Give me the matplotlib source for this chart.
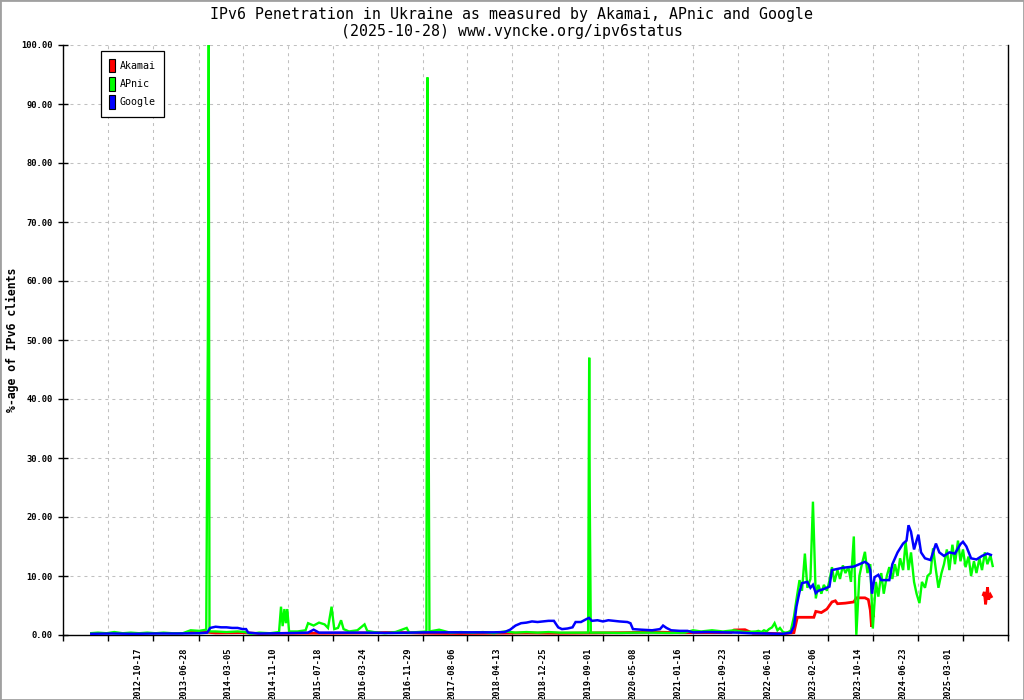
import matplotlib
matplotlib.use('Agg')
import matplotlib.pyplot as plt
from matplotlib.patches import Patch, Rectangle
import numpy as np
import pandas as pd

title = ('IPv6 Penetration in Ukraine as measured by Akamai, APnic and Google\n'
         '(2025-10-28) www.vyncke.org/ipv6status')
ylabel = '%-age of IPv6 clients'

tick_labels = ['2012-10-17', '2013-06-28', '2014-03-05', '2014-11-10', '2015-07-18',
               '2016-03-24', '2016-11-29', '2017-08-06', '2018-04-13', '2018-12-25',
               '2019-09-01', '2020-05-08', '2021-01-16', '2021-09-23', '2022-06-01',
               '2023-02-06', '2023-10-14', '2024-06-23', '2025-03-01']

# Akamai (red), nan = no data
akamai = [
    ('2013-05-01', 0.45), ('2013-08-01', 0.5), ('2013-10-01', 0.35), ('2014-03-01', 0.4),
    ('2014-06-01', 0.25), ('2015-01-01', 0.3), ('2015-06-01', 0.3), ('2016-01-01', 0.35),
    ('2016-07-01', 0.45), ('2017-01-01', 0.3), ('2017-07-01', 0.25), ('2018-01-01', 0.3),
    ('2018-07-01', 0.35), ('2019-01-01', 0.3), ('2019-07-01', 0.35), ('2020-01-01', 0.4),
    ('2020-06-01', 0.5), ('2020-11-01', 0.4), ('2021-05-01', 0.4), ('2021-08-15', 0.4),
    ('2021-09-01', 0.85), ('2021-11-01', 0.9), ('2021-12-15', 0.3), ('2022-03-01', 0.3),
    ('2022-06-01', 0.2), ('2022-08-01', 0.4), ('2022-08-20', 3.0), ('2022-10-01', 3.0),
    ('2022-11-20', 3.0), ('2022-12-01', 4.0), ('2023-01-01', 3.8), ('2023-02-01', 4.4),
    ('2023-03-01', 5.6), ('2023-03-20', 5.8), ('2023-04-01', 5.3), ('2023-05-15', 5.4),
    ('2023-07-01', 5.6), ('2023-07-15', 6.3), ('2023-09-01', 6.3), ('2023-09-20', 6.0),
    ('2023-10-01', 4.2), ('2023-10-08', 1.4), ('2023-10-15', 4.8), ('2023-10-20', 3.0),
    ('2024-06-01', np.nan),
    ('2025-06-20', 6.6), ('2025-06-28', 7.3), ('2025-07-05', 5.2), ('2025-07-16', 8.1),
    ('2025-07-22', 6.0), ('2025-08-01', 6.8), ('2025-08-10', 6.3),
]

# APNIC (green)
apnic = [
    ('2011-11-01', 0.3), ('2011-12-15', 0.4), ('2012-02-01', 0.3), ('2012-03-15', 0.5),
    ('2012-05-01', 0.3), ('2012-06-15', 0.4), ('2012-08-01', 0.3), ('2012-09-15', 0.4),
    ('2012-11-01', 0.3), ('2012-12-15', 0.4), ('2013-02-01', 0.3), ('2013-04-01', 0.3),
    ('2013-05-15', 0.8), ('2013-07-01', 0.7), ('2013-08-10', 0.9), ('2013-08-19', 50.0),
    ('2013-08-24', 100.0), ('2013-08-28', 0.6), ('2013-10-01', 0.6), ('2013-12-01', 0.5),
    ('2014-02-01', 0.6), ('2014-03-15', 0.5), ('2014-04-15', 0.2), ('2014-06-01', 0.4),
    ('2014-08-01', 0.3), ('2014-09-20', 0.5), ('2014-10-01', 4.8), ('2014-10-10', 1.5),
    ('2014-10-20', 4.4), ('2014-10-28', 2.0), ('2014-11-05', 4.4), ('2014-11-15', 0.6),
    ('2015-01-01', 0.6), ('2015-02-15', 0.8), ('2015-03-01', 2.0), ('2015-04-01', 1.6),
    ('2015-05-01', 2.1), ('2015-06-01', 1.8), ('2015-06-20', 1.2), ('2015-07-10', 4.8),
    ('2015-07-25', 1.0), ('2015-08-15', 1.2), ('2015-09-01', 2.5), ('2015-09-15', 1.0),
    ('2015-10-15', 0.6), ('2015-12-01', 0.8), ('2016-01-10', 1.8), ('2016-01-25', 0.7),
    ('2016-03-01', 0.5), ('2016-05-01', 0.3), ('2016-07-01', 0.5), ('2016-09-01', 1.2),
    ('2016-09-15', 0.4), ('2016-11-01', 0.5), ('2016-12-20', 0.6), ('2016-12-26', 94.5),
    ('2016-12-31', 47.0), ('2017-01-06', 0.6), ('2017-03-01', 0.9), ('2017-05-01', 0.4),
    ('2017-07-01', 0.5), ('2017-09-01', 0.4), ('2017-11-01', 0.5), ('2018-01-01', 0.3),
    ('2018-03-01', 0.6), ('2018-05-01', 0.4), ('2018-07-01', 0.5), ('2018-09-01', 0.4),
    ('2018-11-01', 0.5), ('2019-01-01', 0.4), ('2019-03-01', 0.4), ('2019-06-10', 0.4),
    ('2019-06-16', 47.0), ('2019-06-19', 23.5), ('2019-06-25', 0.4), ('2019-09-01', 0.4),
    ('2019-12-01', 0.35), ('2020-03-01', 0.4), ('2020-06-01', 0.4), ('2020-09-01', 0.35),
    ('2020-12-01', 0.4), ('2021-01-15', 0.8), ('2021-03-01', 0.6), ('2021-05-01', 0.8),
    ('2021-07-01', 0.6), ('2021-09-01', 0.8), ('2021-11-01', 0.5),
    ('2022-01-01', 0.6), ('2022-01-15', 0.7), ('2022-02-01', 0.5), ('2022-02-15', 0.8),
    ('2022-03-01', 0.6), ('2022-03-15', 1.0), ('2022-04-01', 1.3), ('2022-04-15', 2.0),
    ('2022-05-01', 0.8), ('2022-05-15', 1.2), ('2022-06-01', 0.5), ('2022-06-15', 0.4),
    ('2022-07-01', 0.5), ('2022-07-15', 0.8), ('2022-08-01', 3.1), ('2022-08-15', 6.0),
    ('2022-09-01', 9.3), ('2022-09-15', 7.5), ('2022-10-01', 13.8), ('2022-10-15', 8.0),
    ('2022-11-01', 9.5), ('2022-11-15', 22.6), ('2022-12-01', 6.2), ('2022-12-15', 8.5),
    ('2023-01-01', 7.0), ('2023-01-15', 8.5), ('2023-02-01', 7.5), ('2023-02-15', 9.2),
    ('2023-03-01', 11.5), ('2023-03-15', 9.0), ('2023-04-01', 11.0), ('2023-04-15', 9.5),
    ('2023-05-01', 11.8), ('2023-05-15', 10.5), ('2023-06-01', 11.5), ('2023-06-15', 9.0),
    ('2023-07-01', 16.7), ('2023-07-15', 0.0), ('2023-08-01', 10.0), ('2023-08-15', 12.0),
    ('2023-09-01', 14.1), ('2023-09-15', 10.5), ('2023-10-01', 12.0), ('2023-10-15', 1.1),
    ('2023-11-01', 9.0), ('2023-11-15', 6.5), ('2023-12-01', 10.5), ('2023-12-15', 7.0),
    ('2024-01-01', 10.0), ('2024-01-15', 11.5), ('2024-02-01', 9.5), ('2024-02-15', 12.0),
    ('2024-03-01', 10.0), ('2024-03-15', 13.0), ('2024-04-01', 11.0), ('2024-04-15', 15.8),
    ('2024-05-01', 11.0), ('2024-05-15', 14.0), ('2024-06-01', 9.0), ('2024-06-15', 7.0),
    ('2024-07-01', 5.4), ('2024-07-15', 9.0), ('2024-08-01', 8.0), ('2024-08-15', 10.0),
    ('2024-09-01', 10.5), ('2024-09-15', 14.7), ('2024-10-01', 11.0), ('2024-10-15', 8.0),
    ('2024-11-01', 10.5), ('2024-11-15', 12.0), ('2024-12-01', 14.5), ('2024-12-15', 11.0),
    ('2025-01-01', 15.3), ('2025-01-15', 12.0), ('2025-02-01', 16.0), ('2025-02-15', 12.5),
    ('2025-03-01', 14.5), ('2025-03-15', 11.5), ('2025-04-01', 13.3), ('2025-04-15', 10.0),
    ('2025-05-01', 12.5), ('2025-05-15', 10.5), ('2025-06-01', 13.0), ('2025-06-15', 11.0),
    ('2025-07-01', 14.0), ('2025-07-15', 12.0), ('2025-08-01', 13.5), ('2025-08-15', 11.5),
]

# Google (blue)
google = [
    ('2011-11-01', 0.2), ('2012-03-01', 0.25), ('2012-07-01', 0.2), ('2012-11-01', 0.25),
    ('2013-03-01', 0.25), ('2013-07-01', 0.3), ('2013-08-15', 0.4), ('2013-09-01', 1.2),
    ('2013-10-01', 1.4), ('2013-11-01', 1.3), ('2013-12-01', 1.3), ('2014-01-01', 1.2),
    ('2014-02-01', 1.2), ('2014-03-01', 1.0), ('2014-03-20', 1.0), ('2014-04-01', 0.4),
    ('2014-06-01', 0.25), ('2014-10-01', 0.3), ('2015-01-01', 0.35), ('2015-03-01', 0.4),
    ('2015-04-01', 0.9), ('2015-05-01', 0.4), ('2015-09-01', 0.4), ('2016-01-01', 0.4),
    ('2016-06-01', 0.35), ('2017-01-01', 0.45), ('2017-06-01', 0.45), ('2018-01-01', 0.45),
    ('2018-03-01', 0.5), ('2018-04-01', 0.9), ('2018-05-01', 1.6), ('2018-06-01', 2.0),
    ('2018-07-01', 2.1), ('2018-08-01', 2.3), ('2018-09-01', 2.2), ('2018-10-01', 2.3),
    ('2018-11-01', 2.4), ('2018-12-01', 2.4), ('2018-12-25', 1.3), ('2019-01-15', 1.0),
    ('2019-02-15', 1.1), ('2019-03-15', 1.3), ('2019-04-01', 2.2), ('2019-05-01', 2.2),
    ('2019-06-01', 2.7), ('2019-06-15', 2.9), ('2019-07-01', 2.4), ('2019-08-01', 2.5),
    ('2019-09-01', 2.3), ('2019-10-01', 2.5), ('2019-11-01', 2.4), ('2019-12-01', 2.3),
    ('2020-01-15', 2.2), ('2020-02-01', 2.0), ('2020-02-15', 1.0), ('2020-04-01', 0.9),
    ('2020-06-01', 0.8), ('2020-07-15', 1.0), ('2020-08-01', 1.6), ('2020-08-20', 1.2),
    ('2020-09-15', 0.8), ('2020-11-01', 0.7), ('2020-12-15', 0.7), ('2021-01-15', 0.45),
    ('2021-04-01', 0.5), ('2021-07-01', 0.45), ('2021-10-01', 0.4), ('2021-12-01', 0.3),
    ('2022-03-01', 0.25), ('2022-06-01', 0.2), ('2022-07-15', 0.4), ('2022-08-01', 1.5),
    ('2022-08-15', 4.8), ('2022-09-01', 7.3), ('2022-09-15', 8.8), ('2022-10-15', 9.0),
    ('2022-11-01', 8.0), ('2022-11-15', 8.5), ('2022-12-01', 7.1), ('2022-12-15', 7.5),
    ('2023-01-15', 7.8), ('2023-02-15', 8.2), ('2023-03-01', 11.0), ('2023-04-01', 11.2),
    ('2023-05-01', 11.4), ('2023-06-01', 11.5), ('2023-07-01', 11.6), ('2023-08-01', 12.0),
    ('2023-09-01', 12.4), ('2023-09-20', 12.0), ('2023-10-01', 11.0), ('2023-10-10', 7.0),
    ('2023-10-25', 9.8), ('2023-11-15', 10.2), ('2023-12-01', 9.3), ('2024-01-15', 9.3),
    ('2024-02-01', 12.0), ('2024-03-01', 14.0), ('2024-04-01', 15.5), ('2024-04-20', 16.0),
    ('2024-05-01', 18.6), ('2024-05-15', 17.5), ('2024-06-01', 14.5), ('2024-06-15', 16.0),
    ('2024-06-25', 17.0), ('2024-07-10', 14.0), ('2024-08-01', 13.0), ('2024-09-01', 12.7),
    ('2024-10-01', 15.5), ('2024-10-20', 14.0), ('2024-11-15', 13.4), ('2024-12-15', 14.0),
    ('2025-01-15', 13.8), ('2025-02-15', 15.4), ('2025-03-01', 15.8), ('2025-03-20', 15.0),
    ('2025-04-15', 13.0), ('2025-05-15', 12.8), ('2025-06-15', 13.4), ('2025-07-15', 13.8),
    ('2025-08-10', 13.5),
]

series = [('Akamai', akamai, '#ff0000', 2.0),
          ('APnic', apnic, '#00ff00', 1.7),
          ('Google', google, '#0000ff', 1.8)]

mono = 'DejaVu Sans Mono'

fig = plt.figure(figsize=(10.24, 7), dpi=100)
fig.patch.set_facecolor('white')
ax = fig.add_axes([63 / 1024, 65 / 700, 945 / 1024, 590 / 700])

for i, (name, data, color, lw) in enumerate(series):
    d = pd.DataFrame(data, columns=['date', 'value'])
    d['date'] = pd.to_datetime(d['date'])
    ax.plot(d['date'], d['value'], color=color, lw=lw, zorder=3 + i,
            solid_joinstyle='miter', solid_capstyle='butt')

# x axis: tick marks at the dates, plus unlabelled ones at the ends
label_dates = pd.to_datetime(tick_labels)
step = (label_dates[-1] - label_dates[0]) / (len(label_dates) - 1)
xmin = label_dates[0] - 2 * step
xmax = label_dates[-1] + step
ticks = [xmin, label_dates[0] - step] + list(label_dates) + [xmax]
ax.set_xticks(ticks)
ax.set_xticklabels([])
ax.set_xlim(xmin, xmax)

# the labels sit a little left of their tick, like in the original image
px = (xmax - xmin) / 945
ax.set_xticks(label_dates - 15 * px, minor=True)
ax.set_xticklabels(tick_labels, minor=True, rotation=90,
                   fontfamily=mono, fontweight='bold', fontsize=6.3)

yticks = np.arange(0, 101, 10)
ax.set_yticks(yticks)
ax.set_yticklabels([f'{v:.2f}' for v in yticks], fontfamily=mono,
                   fontweight='bold', fontsize=6.3)
ax.set_ylim(0, 100)

ax.tick_params(axis='x', which='major', direction='out', length=4, width=1)
ax.tick_params(axis='x', which='minor', length=0, pad=9)
ax.tick_params(axis='y', direction='inout', length=7, width=1, pad=4)

ax.grid(True, which='major', color='#c0c0c0', lw=0.75, linestyle=(0, (2.9, 3.8)))
ax.set_axisbelow(True)
ax.spines['top'].set_visible(False)
for s in ['left', 'bottom', 'right']:
    ax.spines[s].set_linewidth(1.0)
    ax.spines[s].set_color('black')

fig.text(12 / 1024, 1 - 340 / 700, ylabel, rotation=90, ha='center', va='center',
         fontfamily=mono, fontweight='bold', fontsize=8.3)

fig.text(0.5, 1 - 23 / 700, title, ha='center', va='center', fontfamily=mono,
         fontsize=10.75, linespacing=1.2)

handles = [Patch(facecolor=c, edgecolor='black', lw=0.8, label=n) for n, _, c, _ in series]
leg = ax.legend(handles=handles, loc='upper left', bbox_to_anchor=(100.5 / 1024, 1 - 50.5 / 700),
                bbox_transform=fig.transFigure, borderaxespad=0, fancybox=False,
                framealpha=1, edgecolor='black', prop={'family': mono, 'size': 7.2},
                handlelength=0.6, handleheight=1.75, handletextpad=0.55,
                labelspacing=0.45, borderpad=0.8)
leg.get_frame().set_linewidth(0.9)
leg.set_zorder(10)

fig.patches.append(Rectangle((0, 0), 1, 1, transform=fig.transFigure, fill=False,
                             edgecolor='#a0a0a0', lw=2, zorder=0))

fig.savefig('out.png', dpi=100, facecolor='white')
